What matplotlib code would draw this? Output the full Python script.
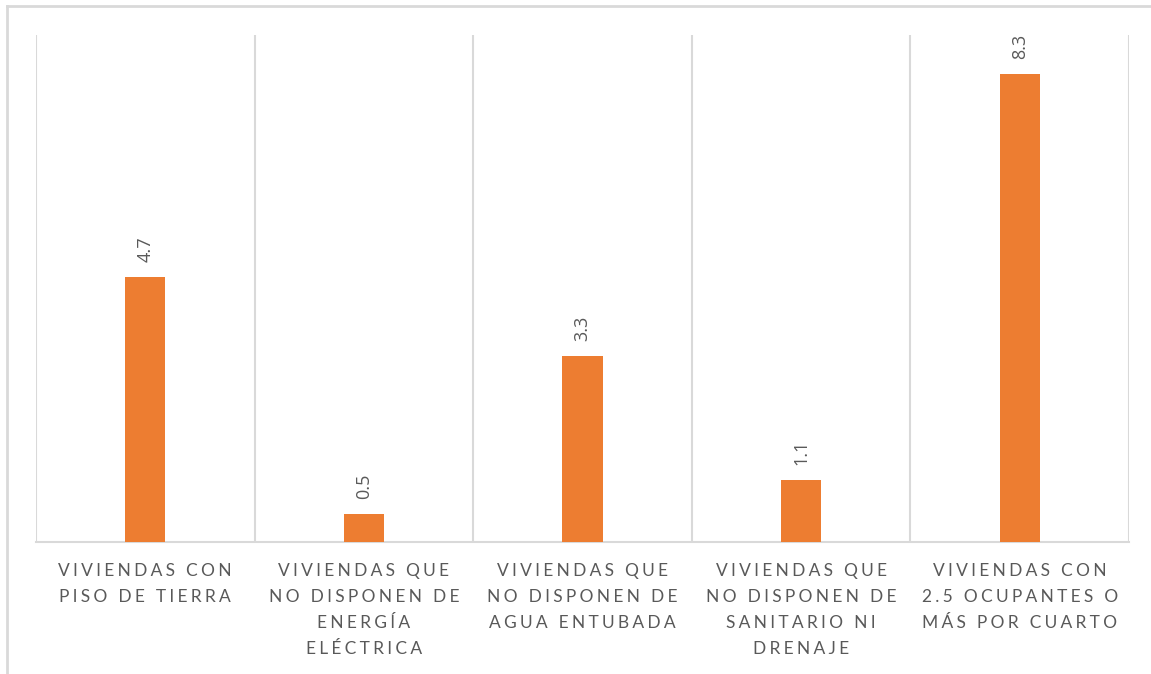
import matplotlib.pyplot as plt
from matplotlib.lines import Line2D

categorias = [
    "VIVIENDAS CON\nPISO DE TIERRA",
    "VIVIENDAS QUE\nNO DISPONEN DE\nENERGÍA\nELÉCTRICA",
    "VIVIENDAS QUE\nNO DISPONEN DE\nAGUA ENTUBADA",
    "VIVIENDAS QUE\nNO DISPONEN DE\nSANITARIO NI\nDRENAJE",
    "VIVIENDAS CON\n2.5 OCUPANTES O\nMÁS POR CUARTO",
]
valores = [4.7, 0.5, 3.3, 1.1, 8.3]

naranja = "#ED7D31"
gris_linea = "#D9D9D9"
gris_texto = "#595959"
fuente = ["Lato", "DejaVu Sans"]


def espaciar(texto):
    # separa las letras para imitar el espaciado amplio del original
    return "\n".join("\u2009\u200a".join(linea) for linea in texto.split("\n"))


fig = plt.figure(figsize=(11.51, 6.74), dpi=100)
ax = fig.add_axes([36 / 1151, 132 / 674, 1093 / 1151, 507 / 674])

x = list(range(len(valores)))
ax.bar(x, valores, width=0.183, color=naranja, zorder=3)

for xi, v in zip(x, valores):
    ax.annotate(f"{v:.1f}", (xi, v), xytext=(0, 11), textcoords="offset points",
                rotation=90, ha="center", va="bottom", fontsize=13,
                color=gris_texto, family=["Open Sans", "DejaVu Sans"])

for b in [i - 0.5 for i in range(len(valores) + 1)]:
    ax.axvline(b, color=gris_linea, linewidth=1.5, zorder=1)

ax.set_xlim(-0.5, len(valores) - 0.5)
ax.set_ylim(0, 9)
ax.set_yticks([])
ax.set_xticks(x)
ax.set_xticklabels([espaciar(c) for c in categorias], fontsize=12.5,
                   color=gris_texto, family=fuente, linespacing=1.78)
ax.tick_params(axis="x", length=0, pad=15)
for lado in ["top", "right", "left"]:
    ax.spines[lado].set_visible(False)
ax.spines["bottom"].set_color(gris_linea)
ax.spines["bottom"].set_linewidth(1.5)

# marco exterior del grafico
fig.add_artist(Line2D([6.5 / 1151, 1], [1 - 5.5 / 674] * 2, color=gris_linea,
                      linewidth=2, transform=fig.transFigure))
fig.add_artist(Line2D([6.5 / 1151] * 2, [0, 1 - 5.5 / 674], color=gris_linea,
                      linewidth=2, transform=fig.transFigure))

fig.savefig("out.png", dpi=100)
